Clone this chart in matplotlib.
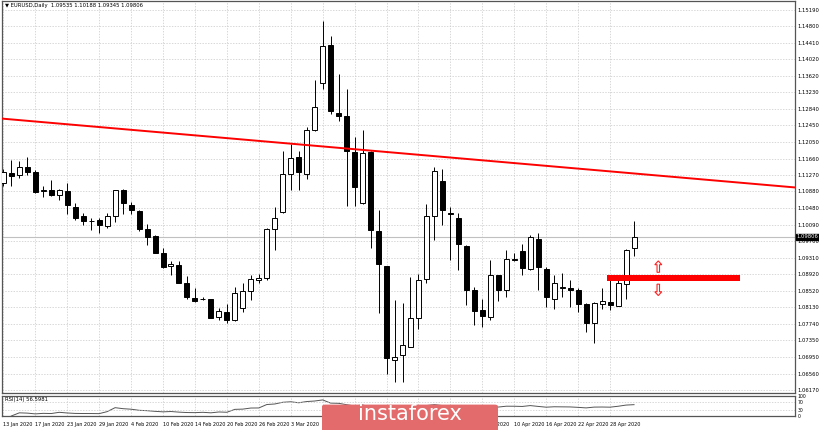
import numpy as np
import pandas as pd
import matplotlib
matplotlib.use("Agg")
import matplotlib.pyplot as plt
from matplotlib.patches import FancyBboxPatch, FancyArrow

# EURUSD daily, 13 Jan 2020 .. 1 May 2020
opens = [1.1108, 1.1132, 1.1126, 1.1147, 1.1134, 1.1088, 1.1092, 1.1080, 1.1090, 1.1051,
         1.1029, 1.1019, 1.1021, 1.1005, 1.1029, 1.1092, 1.1057, 1.1042, 1.0998, 1.0982,
         1.0941, 1.0911, 1.0913, 1.0871, 1.0836, 1.0832, 1.0833, 1.0791, 1.0803, 1.0783,
         1.0811, 1.0852, 1.0879, 1.0882, 1.1000, 1.1039, 1.1130, 1.1169, 1.1130, 1.1234,
         1.1345, 1.1436, 1.1274, 1.1266, 1.1181, 1.1061, 1.1181, 1.0994, 1.0911, 1.0688,
         1.0700, 1.0720, 1.0787, 1.0880, 1.1029, 1.1113, 1.1037, 1.1026, 1.0958, 1.0854,
         1.0806, 1.0791, 1.0889, 1.0855, 1.0928, 1.0947, 1.0903, 1.0976, 1.0905, 1.0833,
         1.0860, 1.0859, 1.0854, 1.0821, 1.0775, 1.0821, 1.0825, 1.0817, 1.0868, 1.0954]
highs = [1.1142, 1.1162, 1.1160, 1.1171, 1.1140, 1.1100, 1.1116, 1.1095, 1.1108, 1.1061,
         1.1037, 1.1024, 1.1024, 1.1037, 1.1092, 1.1095, 1.1063, 1.1045, 1.1012, 1.0984,
         1.0955, 1.0923, 1.0923, 1.0887, 1.0859, 1.0838, 1.0833, 1.0811, 1.0821, 1.0862,
         1.0870, 1.0889, 1.0893, 1.1002, 1.1051, 1.1183, 1.1201, 1.1185, 1.1242, 1.1353,
         1.1493, 1.1457, 1.1367, 1.1331, 1.1218, 1.1234, 1.1185, 1.1043, 1.0911, 1.0830,
         1.0824, 1.0885, 1.0893, 1.1059, 1.1146, 1.1142, 1.1051, 1.1037, 1.0960, 1.0862,
         1.0834, 1.0925, 1.0889, 1.0950, 1.0941, 1.0964, 1.0984, 1.0990, 1.0909, 1.0891,
         1.0895, 1.0879, 1.0858, 1.0824, 1.0826, 1.0860, 1.0879, 1.0885, 1.0952, 1.1019]
lows = [1.1102, 1.1102, 1.1120, 1.1126, 1.1085, 1.1075, 1.1078, 1.1069, 1.1035, 1.1020,
        1.1008, 1.0996, 1.0990, 1.1002, 1.1015, 1.1035, 1.1034, 1.0994, 1.0962, 1.0941,
        1.0907, 1.0889, 1.0870, 1.0834, 1.0826, 1.0830, 1.0787, 1.0783, 1.0777, 1.0781,
        1.0803, 1.0831, 1.0870, 1.0878, 1.0949, 1.1037, 1.1091, 1.1091, 1.1118, 1.1231,
        1.1331, 1.1272, 1.1256, 1.1053, 1.1053, 1.1059, 1.0953, 1.0800, 1.0655, 1.0637,
        1.0635, 1.0720, 1.0761, 1.0870, 1.0972, 1.1008, 1.0925, 1.0901, 1.0819, 1.0771,
        1.0767, 1.0783, 1.0829, 1.0838, 1.0922, 1.0889, 1.0901, 1.0854, 1.0814, 1.0810,
        1.0838, 1.0814, 1.0803, 1.0755, 1.0728, 1.0810, 1.0808, 1.0816, 1.0832, 1.0935]
closes = [1.1134, 1.1125, 1.1147, 1.1134, 1.1087, 1.1092, 1.1080, 1.1092, 1.1057, 1.1026,
          1.1018, 1.1017, 1.1009, 1.1031, 1.1092, 1.1061, 1.1043, 1.0998, 1.0979, 1.0942,
          1.0909, 1.0915, 1.0872, 1.0838, 1.0828, 1.0834, 1.0789, 1.0805, 1.0783, 1.0846,
          1.0852, 1.0880, 1.0882, 1.1000, 1.1026, 1.1130, 1.1168, 1.1134, 1.1234, 1.1288,
          1.1434, 1.1280, 1.1268, 1.1184, 1.1098, 1.1180, 1.0996, 1.0915, 1.0692, 1.0696,
          1.0724, 1.0787, 1.0879, 1.1031, 1.1136, 1.1045, 1.1034, 1.0963, 1.0854, 1.0805,
          1.0793, 1.0889, 1.0854, 1.0929, 1.0926, 1.0907, 1.0980, 1.0909, 1.0838, 1.0870,
          1.0862, 1.0855, 1.0821, 1.0775, 1.0824, 1.0829, 1.0818, 1.0871, 1.0950, 1.0981]

price_ticks = [1.15190, 1.14800, 1.14410, 1.14020, 1.13620, 1.13230, 1.12840, 1.12450,
               1.12050, 1.11660, 1.11270, 1.10880, 1.10480, 1.10090, 1.09700, 1.09310,
               1.08920, 1.08520, 1.08130, 1.07740, 1.07350, 1.06950, 1.06560, 1.06170]
date_labels = ["13 Jan 2020", "17 Jan 2020", "23 Jan 2020", "29 Jan 2020", "4 Feb 2020",
               "10 Feb 2020", "14 Feb 2020", "20 Feb 2020", "26 Feb 2020", "3 Mar 2020",
               "9 Mar 2020", "13 Mar 2020", "19 Mar 2020", "25 Mar 2020", "31 Mar 2020",
               "6 Apr 2020", "10 Apr 2020", "16 Apr 2020", "22 Apr 2020", "28 Apr 2020"]
trend_start, trend_end = 1.12610, 1.10976
zone_low, zone_high = 1.08751, 1.08893
zone_from = 76
last_price = 1.09806

o, h, l, c = map(np.array, (opens, highs, lows, closes))
n = len(c)
bx = 1.7 + 8 * np.arange(n)

W, H = 820, 430
fig = plt.figure(figsize=(8.2, 4.3), dpi=100)
fig.patch.set_facecolor("white")
ax = fig.add_axes([0.002, 1 - 393 / H, 795 / W - 0.002, 393 / H - 0.002])
rx = fig.add_axes([0.002, 1 - 416 / H, 795 / W - 0.002, 20 / H])

xmax = 795
ymin, ymax = 1.06099, 1.15403
ax.set_xlim(0, xmax)
ax.set_ylim(ymin, ymax)

fs = 3.8
for a in (ax, rx):
    for s in a.spines.values():
        s.set_color("#555555")
        s.set_linewidth(0.9)
    a.tick_params(length=0, labelsize=fs, pad=2)
    a.yaxis.tick_right()

# grid
tick_x = bx[::4]
for tx in tick_x:
    ax.axvline(tx, color="#c8c8c8", lw=0.5, ls=(0, (2, 2)), zorder=0)
    rx.axvline(tx, color="#c8c8c8", lw=0.5, ls=(0, (2, 2)), zorder=0)
for p in price_ticks:
    ax.axhline(p, color="#c8c8c8", lw=0.5, ls=(0, (2, 2)), zorder=0)
ax.set_yticks(price_ticks)
ax.set_yticklabels([f"{p:.5f}" for p in price_ticks])
ax.set_xticks([])

# current price line
ax.axhline(last_price, color="#c0c0c0", lw=0.8, zorder=1)
ax.text(1.002, last_price, f"{last_price:.5f}", transform=ax.get_yaxis_transform(),
        fontsize=fs, color="white", va="center", ha="left",
        bbox=dict(boxstyle="square,pad=0.12", fc="black", ec="black"), zorder=5)

# candles
ax.vlines(bx, l, h, color="black", lw=0.7, zorder=2)
up = c >= o
ax.bar(bx, c - o, bottom=o, width=5, color=np.where(up, "white", "black"),
       edgecolor="black", linewidth=0.7, zorder=3)

# trend line
ax.plot([0, xmax], [trend_start, trend_end], color="#ff0000", lw=1.4, zorder=4)

# support zone
ax.fill_between([bx[zone_from] - 3, 740], zone_low, zone_high, color="#ff0000", lw=0, zorder=4)
ax_x = 658
ax.add_patch(FancyArrow(ax_x, zone_high + 0.0007, 0, 0.0018, width=2.5, head_width=7,
                        head_length=0.0009, fc="white", ec="#ff2020", lw=0.8, zorder=5))
ax.add_patch(FancyArrow(ax_x, zone_low - 0.0007, 0, -0.0018, width=2.5, head_width=7,
                        head_length=0.0009, fc="white", ec="#ff2020", lw=0.8, zorder=5))

ax.text(3, ymax - 0.0004, "▼ EURUSD,Daily  1.09535 1.10188 1.09345 1.09806",
        fontsize=fs, va="top", ha="left", color="black")

# RSI panel
delta = pd.Series(c).diff()
gain = delta.clip(lower=0).ewm(alpha=1 / 14, adjust=False).mean()
loss = (-delta.clip(upper=0)).ewm(alpha=1 / 14, adjust=False).mean()
rsi = 100 - 100 / (1 + gain / loss)
rx.plot(bx, rsi, color="#555555", lw=0.7)
rx.set_xlim(0, xmax)
rx.set_ylim(0, 100)
for lv in (30, 70):
    rx.axhline(lv, color="#c8c8c8", lw=0.5, ls=(0, (2, 2)))
rx.set_yticks([100, 70, 30, 0])
rx.set_yticklabels(["100", "70", "30", "0"], fontsize=3.3)
rx.set_xticks(tick_x)
rx.set_xticklabels(date_labels, fontsize=3.5, ha="left")
rx.tick_params(axis="x", pad=4)
rx.text(3, 97, "RSI(14) 56.5981", fontsize=fs, va="top", ha="left")

# watermark
fig.patches.append(FancyBboxPatch((322 / W, -0.02), 176 / W, 34 / H,
                                  boxstyle="round,pad=0,rounding_size=0.004",
                                  transform=fig.transFigure, fc="#e36b6b", ec="none", zorder=10))
fig.text(410 / W, 16 / H, "instaforex", color="white", fontsize=15, ha="center",
         va="center", zorder=11)

fig.savefig("out.png", dpi=100, facecolor="white")
